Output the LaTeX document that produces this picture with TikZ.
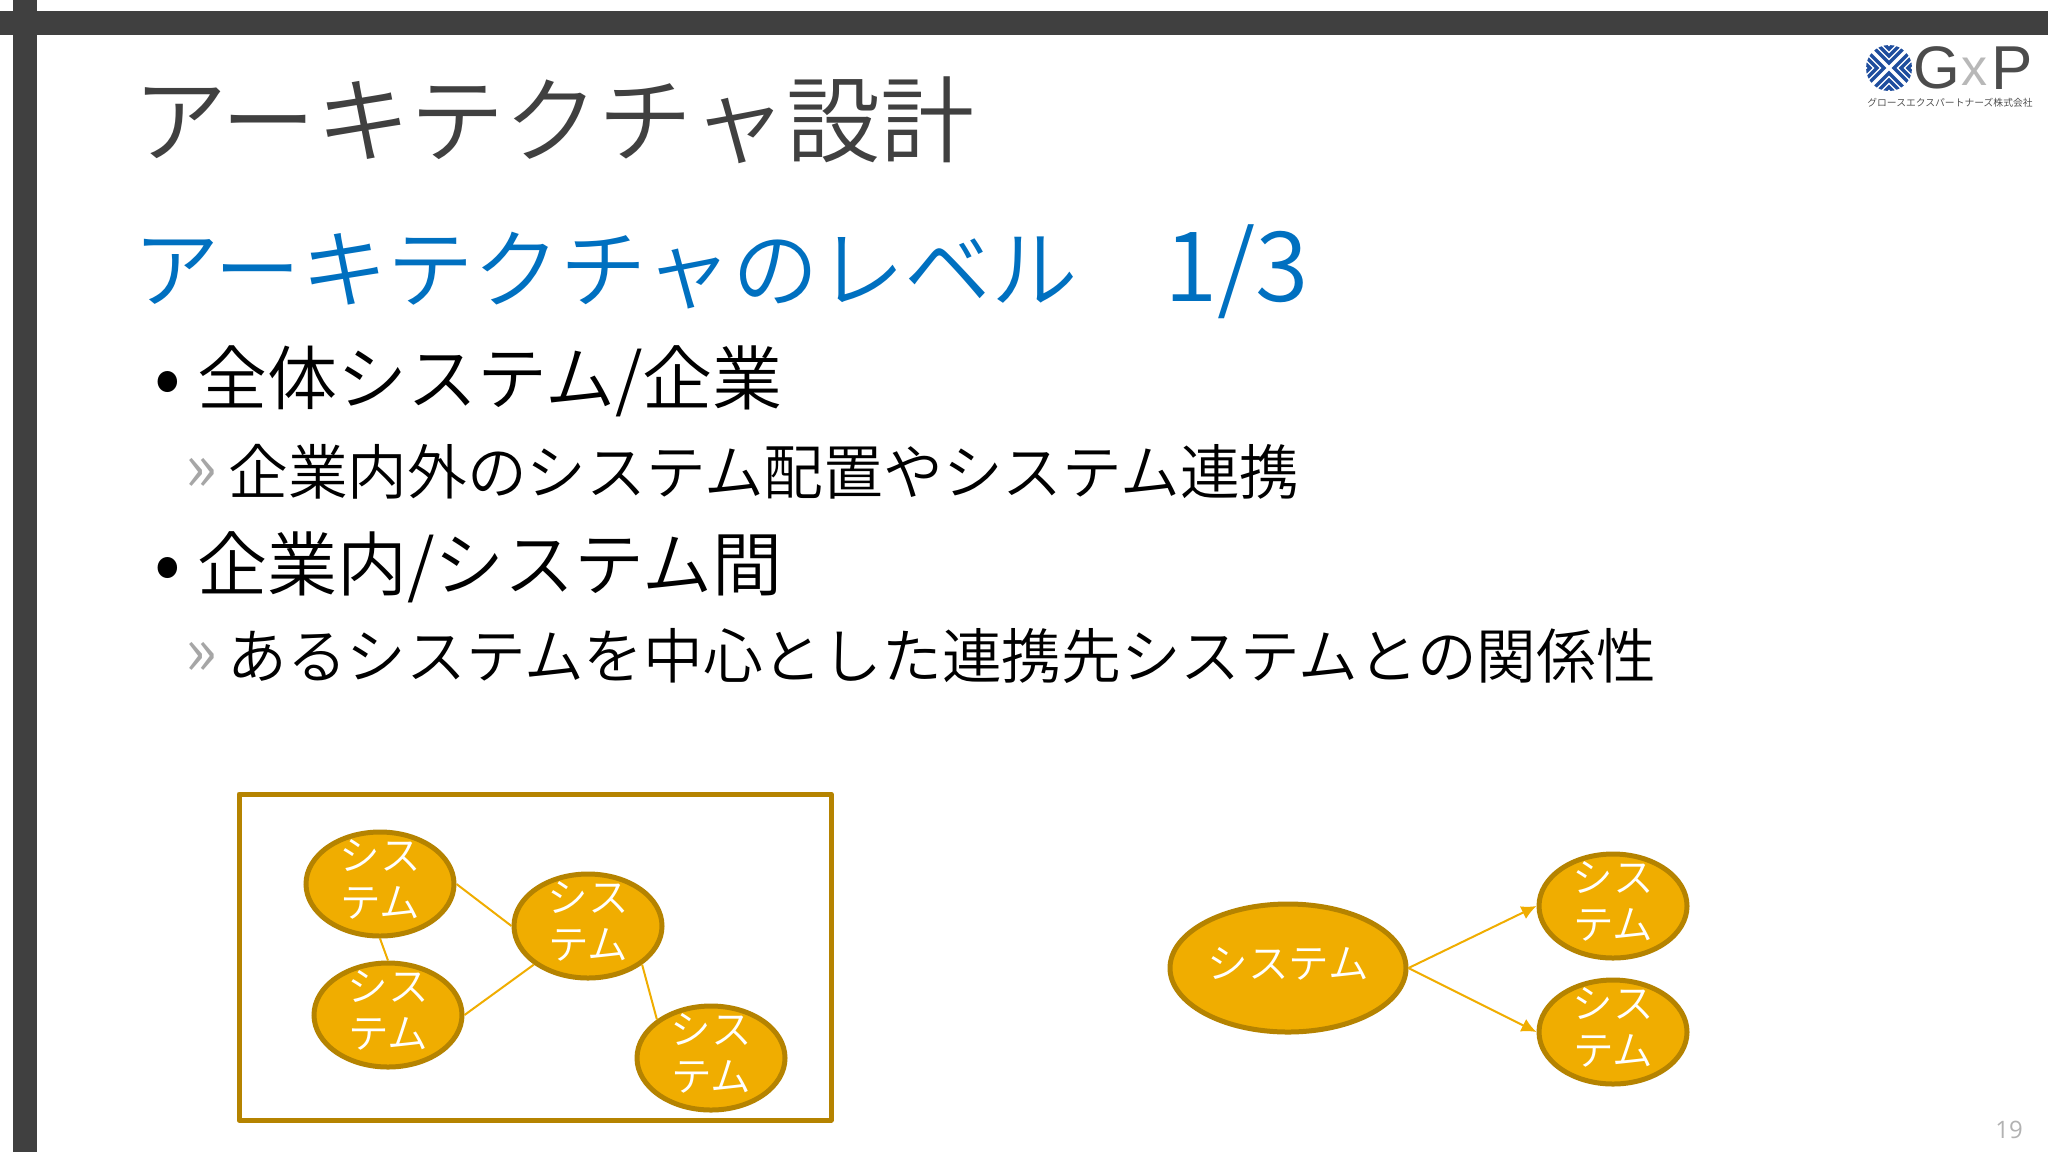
\documentclass[tikz,border=0pt]{standalone}
\usepackage{fontspec}
\setmainfont{Noto Sans CJK JP DemiLight}
\newfontfamily\logofont{Liberation Sans}
\newfontfamily\pagefont{Open Sans}
\usetikzlibrary{shapes.geometric,arrows.meta}
\definecolor{bardark}{HTML}{404040}
\definecolor{subblue}{HTML}{0070C0}
\definecolor{sysfill}{HTML}{F0AD00}
\definecolor{sysedge}{HTML}{B58300}
\definecolor{logoblue}{HTML}{1F4E9E}
\newcommand{\fs}[1]{\fontsize{#1pt}{#1pt}\selectfont}
\newcommand{\fsys}{\fontsize{20.3pt}{23.5pt}\selectfont}
\tikzset{
  x=0.5pt,y=-0.5pt,
  bar/.style={fill=bardark,draw=none},
  titletext/.style={anchor=west,inner sep=0,text=bardark,font=\fs{47.1}},
  subtitletext/.style={anchor=west,inner sep=0,text=subblue,font=\fs{43.2}},
  lvlone/.style={anchor=west,inner sep=0,text=black,font=\fs{35}},
  lvltwo/.style={anchor=west,inner sep=0,text=black,font=\fs{29.85}},
  bulletmark/.style={anchor=center,inner sep=0,text=black,font=\fs{40}},
  chevmark/.style={anchor=center,inner sep=0,text=black!35,font=\fs{34}},
  sys/.style={shape=ellipse,draw=sysedge,fill=sysfill,line width=2.5pt,inner sep=0,minimum width=74pt,minimum height=52pt},
  bigsys/.style={sys,minimum width=118pt,minimum height=64pt},
  systext/.style={inner sep=0,text=white,align=center,font=\fsys,yshift=2.2pt},
  link/.style={draw=sysfill,line width=1pt},
  flow/.style={link,-{Latex[length=7.5pt,width=7pt]}},
  frame/.style={draw=sysedge,line width=2.5pt,line join=round,fill=none},
  chev/.style={draw=logoblue,line width=1.7pt,line join=miter},
}
\begin{document}
\begin{tikzpicture}
\useasboundingbox (0,0) rectangle (2048,1152);
\fill[white] (0,0) rectangle (2048,1152);
\path[bar] (0,11) rectangle (2048,35);
\path[bar] (13,0) rectangle (37,1152);

\node[titletext] (title) at (133,120) {アーキテクチャ設計};
\node[subtitletext] (subtitle) at (133,272) {アーキテクチャのレベル　{\fs{48.5}1/3}};
\node[bulletmark] (b1) at (168,388) {•};
\node[lvlone] (t1) at (197,381) {全体システム/企業};
\node[chevmark] (c1) at (201,475) {»};
\node[lvltwo] (t2) at (228,472) {企業内外のシステム配置やシステム連携};
\node[bulletmark] (b2) at (168,574) {•};
\node[lvlone] (t3) at (197,567) {企業内/システム間};
\node[chevmark] (c2) at (201,659) {»};
\node[lvltwo] (t4) at (227,656) {あるシステムを中心とした連携先システムとの関係性};

% logo
\begin{scope}
  \clip (1889,68) circle (23);
  \foreach \r in {0,90,180,270}{
    \foreach \a in {5,12,19}{
      \draw[chev,rotate around={\r:(1889,68)}] (1889-\a-30,68-30) -- (1889-\a,68) -- (1889-\a-30,68+30);
    }
  }
\end{scope}
\node[inner sep=0,text=black!70,font=\logofont\fs{30}] (logoG) at (1937,68) {G};
\node[inner sep=0,text=black!28,font=\logofont\fs{26}] (logoX) at (1974,72) {x};
\node[inner sep=0,text=black!70,font=\logofont\fs{31}] (logoP) at (2012,68) {P};
\node[inner sep=0,text=black!75,font=\fs{4.9}] (logotext) at (1950,103) {グロースエクスパートナーズ株式会社};

% left group
\draw[frame] (239,794) rectangle (831,1120);
\node[sys] (a) at (380,884) {};
\node[sys] (b) at (388,1015) {};
\node[sys] (c) at (588,926) {};
\node[sys] (d) at (711,1058) {};
\draw[link] (a.east) -- (c.west);
\draw[link] (a.south) -- (b.north);
\draw[link] (b.east) -- (c.south west);
\draw[link] (c.south east) -- (d.north west);
\node[systext] (at) at (a) {シス\\テム};
\node[systext] (bt) at (b) {シス\\テム};
\node[systext] (ct) at (c) {シス\\テム};
\node[systext] (dt) at (d) {シス\\テム};

% right group
\node[bigsys] (big) at (1288,968) {};
\node[sys] (r1) at (1613,906) {};
\node[sys] (r2) at (1613,1032) {};
\draw[flow] (big.east) -- (r1.west);
\draw[flow] (big.east) -- (r2.west);
\node[systext] (bigt) at (big) {システム};
\node[systext] (r1t) at (r1) {シス\\テム};
\node[systext] (r2t) at (r2) {シス\\テム};

\node[inner sep=0,text=black!30,font=\pagefont\fs{12}] (pageno) at (2009,1130) {19};
\end{tikzpicture}
\end{document}
